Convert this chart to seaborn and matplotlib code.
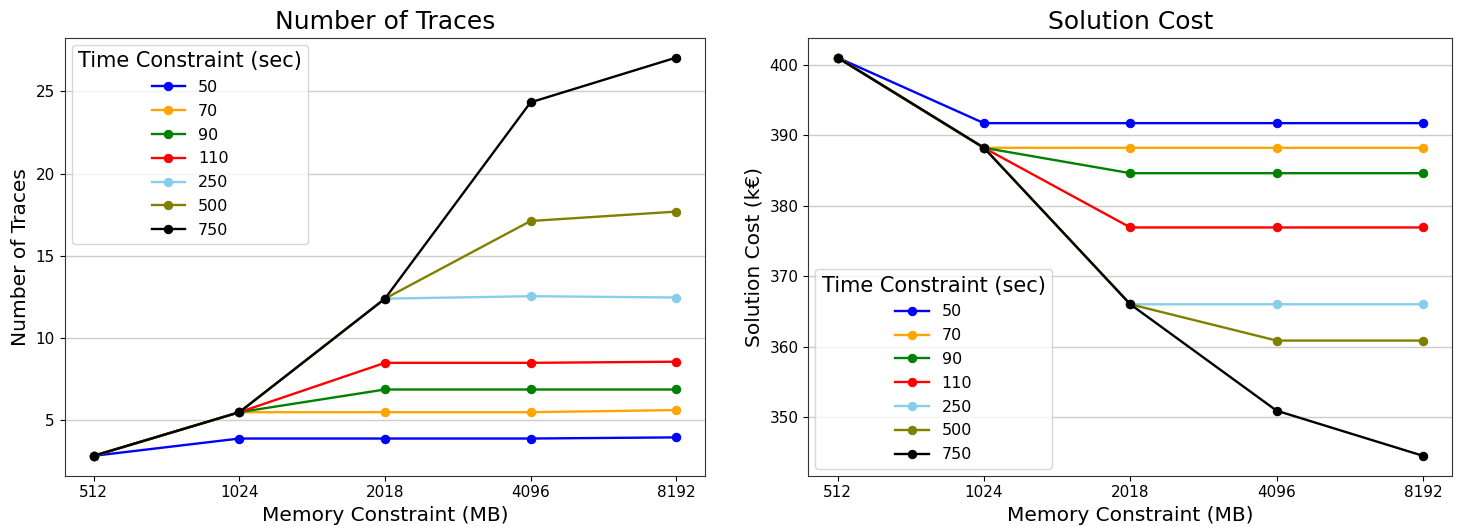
import matplotlib
matplotlib.use("Agg")
import matplotlib.pyplot as plt
import seaborn as sns
import pandas as pd

# Memory limits (x axis) and time limits (one line each)
memory_mb = ["512", "1024", "2018", "4096", "8192"]
time_limits = ["50", "70", "90", "110", "250", "500", "750"]
line_colors = ["blue", "orange", "green", "red", "skyblue", "olive", "black"]

# Number of traces found per time limit, across memory limits
traces_50 = [2.85, 3.9, 3.9, 3.9, 3.97]
traces_70 = [2.85, 5.5, 5.5, 5.5, 5.63]
traces_90 = [2.85, 5.5, 6.88, 6.88, 6.88]
traces_110 = [2.85, 5.5, 8.5, 8.5, 8.57]
traces_250 = [2.85, 5.5, 12.4, 12.55, 12.47]
traces_500 = [2.85, 5.5, 12.4, 17.12, 17.69]
traces_750 = [2.85, 5.5, 12.4, 24.33, 27.05]

# Solution cost (k€) per time limit, across memory limits
cost_50 = [401.0, 391.7, 391.7, 391.7, 391.7]
cost_70 = [401.0, 388.2, 388.2, 388.2, 388.2]
cost_90 = [401.0, 388.2, 384.6, 384.6, 384.6]
cost_110 = [401.0, 388.2, 376.9, 376.9, 376.9]
cost_250 = [401.0, 388.2, 366.0, 366.0, 366.0]
cost_500 = [401.0, 388.2, 366.0, 360.85, 360.85]
cost_750 = [401.0, 388.2, 366.0, 350.9, 344.5]

traces = [traces_50, traces_70, traces_90, traces_110, traces_250, traces_500, traces_750]
costs = [cost_50, cost_70, cost_90, cost_110, cost_250, cost_500, cost_750]

rows = []
for t, tr, co in zip(time_limits, traces, costs):
    for i, m in enumerate(memory_mb):
        rows.append({"pos": i, "memory": m, "time": t, "traces": tr[i], "cost": co[i]})
df = pd.DataFrame(rows)
palette = dict(zip(time_limits, line_colors))

plt.rcParams["font.family"] = ["DejaVu Sans"]
fig = plt.figure(figsize=(14.59, 5.27), dpi=100)
ax1 = fig.add_axes([0.0443, 0.0973, 0.4391, 0.8312])
ax2 = fig.add_axes([0.5540, 0.0973, 0.4414, 0.8312])


def draw(ax, col, title, ylabel, legend_loc):
    sns.lineplot(data=df, x="pos", y=col, hue="time", hue_order=time_limits,
                 palette=palette, marker="o", markersize=6, linewidth=1.7,
                 errorbar=None, sort=False, ax=ax)
    for ln in ax.lines:
        ln.set_markeredgecolor(ln.get_color())
        ln.set_markeredgewidth(0.8)
    ax.set_xticks(range(len(memory_mb)), labels=memory_mb)
    ax.tick_params(axis="both", labelsize=11)
    ax.grid(axis="y", color="#cccccc", linewidth=1.0)
    ax.set_axisbelow(True)
    for sp in ax.spines.values():
        sp.set_color("#333333")
    ax.set_title(title, fontsize=18)
    ax.set_xlabel("Memory Constraint (MB)", fontsize=14.5)
    ax.set_ylabel(ylabel, fontsize=14.5)
    sns.move_legend(ax, legend_loc, title="Time Constraint (sec)",
                    fontsize=11.5, title_fontsize=15, labelspacing=0.55,
                    handlelength=2.1, borderaxespad=0.45)
    leg = ax.get_legend()
    for h in leg.legend_handles:
        h.set_markeredgecolor(h.get_color())


draw(ax1, "traces", "Number of Traces", "Number of Traces", "upper left")
draw(ax2, "cost", "Solution Cost", "Solution Cost (k€)", "lower left")

fig.savefig("out.png", dpi=100)
